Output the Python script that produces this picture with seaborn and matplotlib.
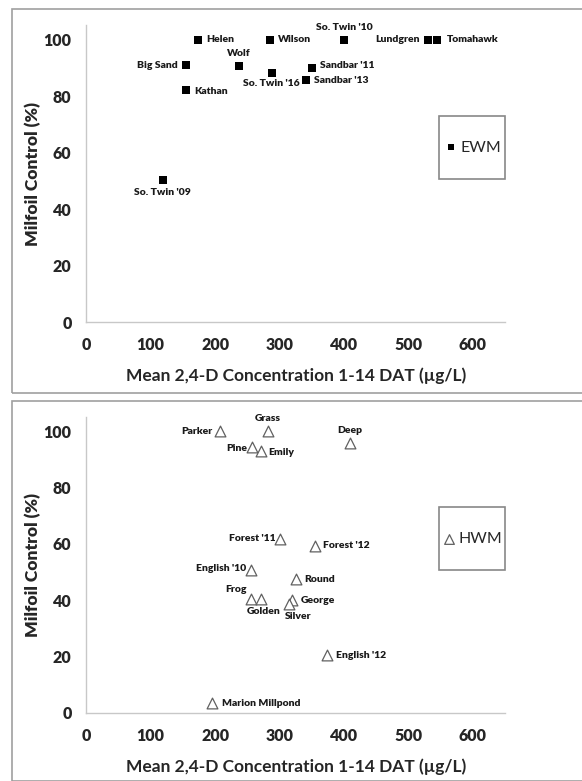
import matplotlib
matplotlib.use("Agg")
import matplotlib.pyplot as plt
import seaborn as sns
from matplotlib.patches import Rectangle

sns.set_style("white")
plt.rcParams['font.family'] = ['Lato', 'DejaVu Sans']

# Eurasian watermilfoil (EWM)
ewm_lakes = ["Helen", "Wilson", "So. Twin '10", "Lundgren", "Tomahawk", "Big Sand",
             "Wolf", "So. Twin '16", "Sandbar '11", "Sandbar '13", "Kathan", "So. Twin '09"]
ewm_conc = [174, 285, 400, 531, 544, 155, 237, 289, 350, 341, 155, 119]
ewm_control = [100, 100, 100, 100, 100, 90.8, 90.5, 88.3, 90.0, 85.5, 82.2, 50.3]

# hybrid watermilfoil (HWM)
hwm_lakes = ["Parker", "Grass", "Deep", "Pine", "Emily", "Forest '11", "Forest '12",
             "English '10", "Round", "Frog", "Golden", "George", "Silver",
             "English '12", "Marion Millpond"]
hwm_conc = [207, 282, 409, 258, 271, 300, 355, 255, 326, 256, 271, 320, 314, 374, 195]
hwm_control = [100, 100, 95.8, 94.2, 92.8, 61.9, 59.4, 50.6, 47.4, 40.4, 40.4, 40.0, 38.8, 20.4, 3.5]

x_ticks = [0, 100, 200, 300, 400, 500, 600]
y_ticks = [0, 20, 40, 60, 80, 100]

# label placement (offset in points, ha)
ewm_pos = {
    "Helen": (6, 0, "left"), "Wilson": (6, 0, "left"),
    "So. Twin '10": (0, 9, "center"), "Lundgren": (-6, 0, "right"),
    "Tomahawk": (7, 0, "left"), "Big Sand": (-6, 0, "right"),
    "Wolf": (0, 9, "center"), "So. Twin '16": (-1, -8, "center"),
    "Sandbar '11": (6, 1.5, "left"), "Sandbar '13": (6, 0, "left"),
    "Kathan": (6, -1, "left"), "So. Twin '09": (0, -9, "center"),
}
hwm_pos = {
    "Parker": (-5, 0, "right"), "Grass": (0, 9, "center"),
    "Deep": (0, 9, "center"), "Pine": (-4, -1, "right"),
    "Emily": (5, -1, "left"), "Forest '11": (-3, 0, "right"),
    "Forest '12": (6, 0, "left"), "English '10": (-3, 1, "right"),
    "Round": (6, 0, "left"), "Frog": (-3, 7, "right"),
    "Golden": (2, -9, "center"), "George": (6, 0, "left"),
    "Silver": (7, -9, "center"), "English '12": (6, 0, "left"),
    "Marion Millpond": (7, 0, "left"),
}

fig = plt.figure(figsize=(5.82, 7.81), dpi=100)
ax1 = fig.add_axes([0.148, 0.5877, 0.72, 0.3798])
ax2 = fig.add_axes([0.148, 0.0871, 0.72, 0.3789])

# panel frames
for y0, h in [(0.497, 0.492), (0.0, 0.487)]:
    fig.patches.append(Rectangle((0.021, y0), 1.2, h, transform=fig.transFigure,
                                 fill=False, edgecolor="#a0a0a0", linewidth=1.2))

sns.scatterplot(x=ewm_conc, y=ewm_control, ax=ax1, marker="s", s=26, color="black",
                edgecolor="black", linewidth=0, label="EWM", legend=False)
sns.scatterplot(x=hwm_conc, y=hwm_control, ax=ax2, marker="^", s=60, facecolor="white",
                edgecolor="#606060", linewidth=0.9, label="HWM", legend=False)

for ax, lakes, xs, ys, pos in [(ax1, ewm_lakes, ewm_conc, ewm_control, ewm_pos),
                               (ax2, hwm_lakes, hwm_conc, hwm_control, hwm_pos)]:
    for name, x, y in zip(lakes, xs, ys):
        dx, dy, ha = pos[name]
        ax.annotate(name, (x, y), xytext=(dx, dy), textcoords="offset points",
                    ha=ha, va="center", fontsize=7.5, fontweight="heavy", color="#1a1a1a")

for ax in [ax1, ax2]:
    ax.set_xlim(0, 650)
    ax.set_ylim(0, 105)
    ax.set_xticks(x_ticks, labels=[str(t) for t in x_ticks], fontweight="heavy", fontsize=11.5)
    ax.set_yticks(y_ticks, labels=[str(t) for t in y_ticks], fontweight="heavy", fontsize=11.5)
    sns.despine(ax=ax)
    for s in ["left", "bottom"]:
        ax.spines[s].set_color("#c8c8c8")
        ax.spines[s].set_linewidth(1)
    ax.tick_params(axis="both", direction="inout", length=5, width=1, color="#c8c8c8", pad=8)
    ax.set_xlabel("Mean 2,4-D Concentration 1-14 DAT (µg/L)", fontsize=12.5,
                  fontweight="bold", labelpad=11)
    ax.set_ylabel("Milfoil Control (%)", fontsize=12.5, fontweight="heavy", labelpad=2)
    ax.add_patch(Rectangle((0.842, 0.482), 0.158, 0.213, transform=ax.transAxes,
                           fill=False, edgecolor="#888888", linewidth=1.2, clip_on=False))
    ax.legend(loc="center", bbox_to_anchor=(0.921, 0.588), frameon=False,
              fontsize=11.5, handletextpad=0.1, handlelength=1.0, markerscale=0.9)

fig.savefig("out.png", dpi=100)
